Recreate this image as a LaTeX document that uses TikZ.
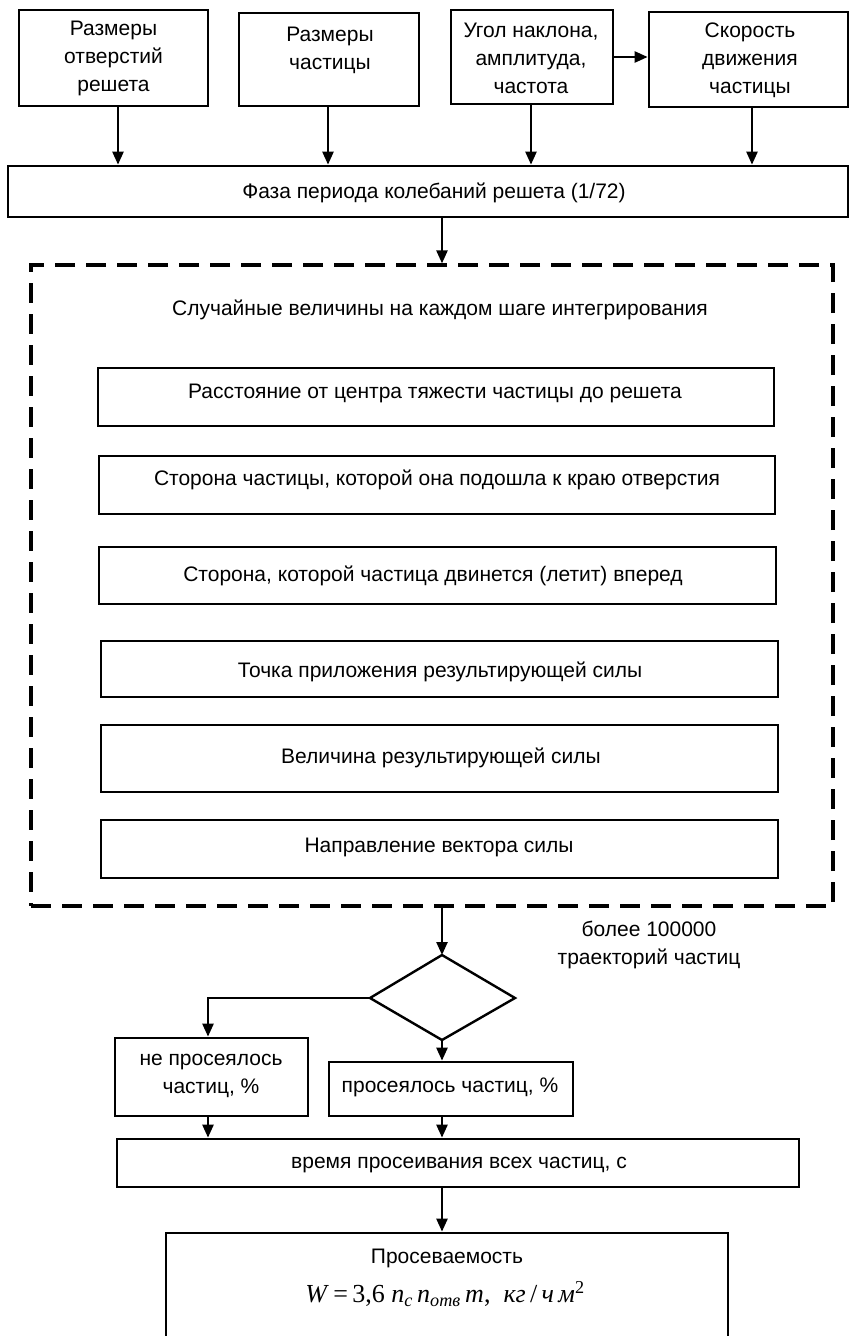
\documentclass[tikz,border=0pt]{standalone}
\usepackage{fontspec}
\setmainfont{Liberation Sans}
\newfontfamily\tnr{Liberation Serif}
\usetikzlibrary{arrows.meta}
\begin{document}
\begin{tikzpicture}[x=1pt,y=-1pt,
  box/.style={draw,line width=2.7pt,inner sep=0pt,anchor=center},
  txt/.style={inner sep=0pt,align=center,font=\fontsize{21}{28}\selectfont},
  arr/.style={line width=2.4pt,-{Triangle[length=13pt,width=11pt]}},
  dashbox/.style={draw,line width=3.2pt,dash pattern=on 20pt off 11pt,inner sep=0pt}]
\useasboundingbox (0,0) rectangle (850,1336);
% top boxes
\node[box,minimum width=189,minimum height=96] (b1) at (113.5,58) {};
\node[txt] (b1t) at (113.5,58) {Размеры\\отверстий\\решета};
\node[box,minimum width=180,minimum height=93] (b2) at (329,59.5) {};
\node[txt] (b2t) at (330,50) {Размеры\\частицы};
\node[box,minimum width=162,minimum height=94] (b3) at (532,57) {};
\node[txt] (b3t) at (531,58) {Угол наклона,\\амплитуда,\\частота};
\node[box,minimum width=199,minimum height=95] (b4) at (748.5,59.5) {};
\node[txt] (b4t) at (750,60) {Скорость\\движения\\частицы};
% phase box
\node[box,minimum width=840,minimum height=51] (ph) at (428,191.5) {};
\node[txt] (pht) at (434,193) {Фаза периода колебаний решета (1/72)};
\draw[arr] (b3.east) -- (b3.east -| b4.west);
\draw[arr] ([xshift=4.5]b1.south) -- ([xshift=4.5]b1.south |- ph.north);
\draw[arr] ([xshift=-1]b2.south) -- ([xshift=-1]b2.south |- ph.north);
\draw[arr] ([xshift=-1]b3.south) -- ([xshift=-1]b3.south |- ph.north);
\draw[arr] ([xshift=3.5]b4.south) -- ([xshift=3.5]b4.south |- ph.north);
% dashed box
\node[dashbox,minimum width=802,minimum height=641] (db) at (432,585.5) {};
\node[txt] (dbt) at (440,310) {Случайные величины на каждом шаге интегрирования};
\draw[arr] ([xshift=14]ph.south) -- ([xshift=14]ph.south |- db.north);
\node[box,minimum width=676,minimum height=58] (ba) at (436,397) {};
\node[txt] (bat) at (435,393) {Расстояние от центра тяжести частицы до решета};
\node[box,minimum width=676,minimum height=58] (bb) at (437,485) {};
\node[txt] (bbt) at (437,480) {Сторона частицы, которой она подошла к краю отверстия};
\node[box,minimum width=677,minimum height=57] (bc) at (437.5,575.5) {};
\node[txt] (bct) at (433,576) {Сторона, которой частица двинется (летит) вперед};
\node[box,minimum width=677,minimum height=56] (bd) at (439.5,669) {};
\node[txt] (bdt) at (440,672) {Точка приложения результирующей силы};
\node[box,minimum width=677,minimum height=67] (be) at (439.5,758.5) {};
\node[txt] (bet) at (441,758) {Величина результирующей силы};
\node[box,minimum width=677,minimum height=58] (bf) at (439.5,849) {};
\node[txt] (bft) at (439,847) {Направление вектора силы};
% diamond
\coordinate (dT) at (442,955);
\coordinate (dR) at (515,998);
\coordinate (dB) at (442,1040);
\coordinate (dL) at (370,998);
\draw[line width=2.4pt,line join=miter] (dT) -- (dR) -- (dB) -- (dL) -- cycle;
\draw[arr] (db.south -| dT) -- (dT);
\node[txt] (tr) at (649,945) {более 100000\\траекторий частиц};
% result boxes
\node[box,minimum width=193,minimum height=78] (lb) at (211.5,1077) {};
\node[txt] (lbt) at (211,1076) {не просеялось\\частиц, \%};
\node[box,minimum width=244,minimum height=54] (rb) at (451,1089) {};
\node[txt] (rbt) at (450,1087) {просеялось частиц, \%};
\draw[arr] (dL) -| ([xshift=-3.5]lb.north);
\draw[arr] (dB) -- (dB |- rb.north);
\node[box,minimum width=682,minimum height=48] (vb) at (458,1163) {};
\node[txt] (vbt) at (459,1165) {время просеивания всех частиц, с};
\draw[arr] ([xshift=-3.5]lb.south) -- ([xshift=-3.5]lb.south |- vb.north);
\draw[arr] (dB |- rb.south) -- (dB |- vb.north);
% final box
\node[box,minimum width=562,minimum height=112] (pb) at (447,1289) {};
\node[txt] (pbt) at (447,1258) {Просеваемость};
\node[inner sep=0pt,font=\fontsize{26}{30}\selectfont\tnr] (fm) at (445,1294)
  {\textit{W}\,=\,3,6\ \textit{n}\textsubscript{\textit{c}}\,\textit{n}\textsubscript{\textit{отв}}\,\textit{m},\ \ \textit{кг}\,/\,\textit{ч}\,\textit{м}\textsuperscript{2}};
\draw[arr] (dB |- vb.south) -- (dB |- pb.north);
\end{tikzpicture}
\end{document}
